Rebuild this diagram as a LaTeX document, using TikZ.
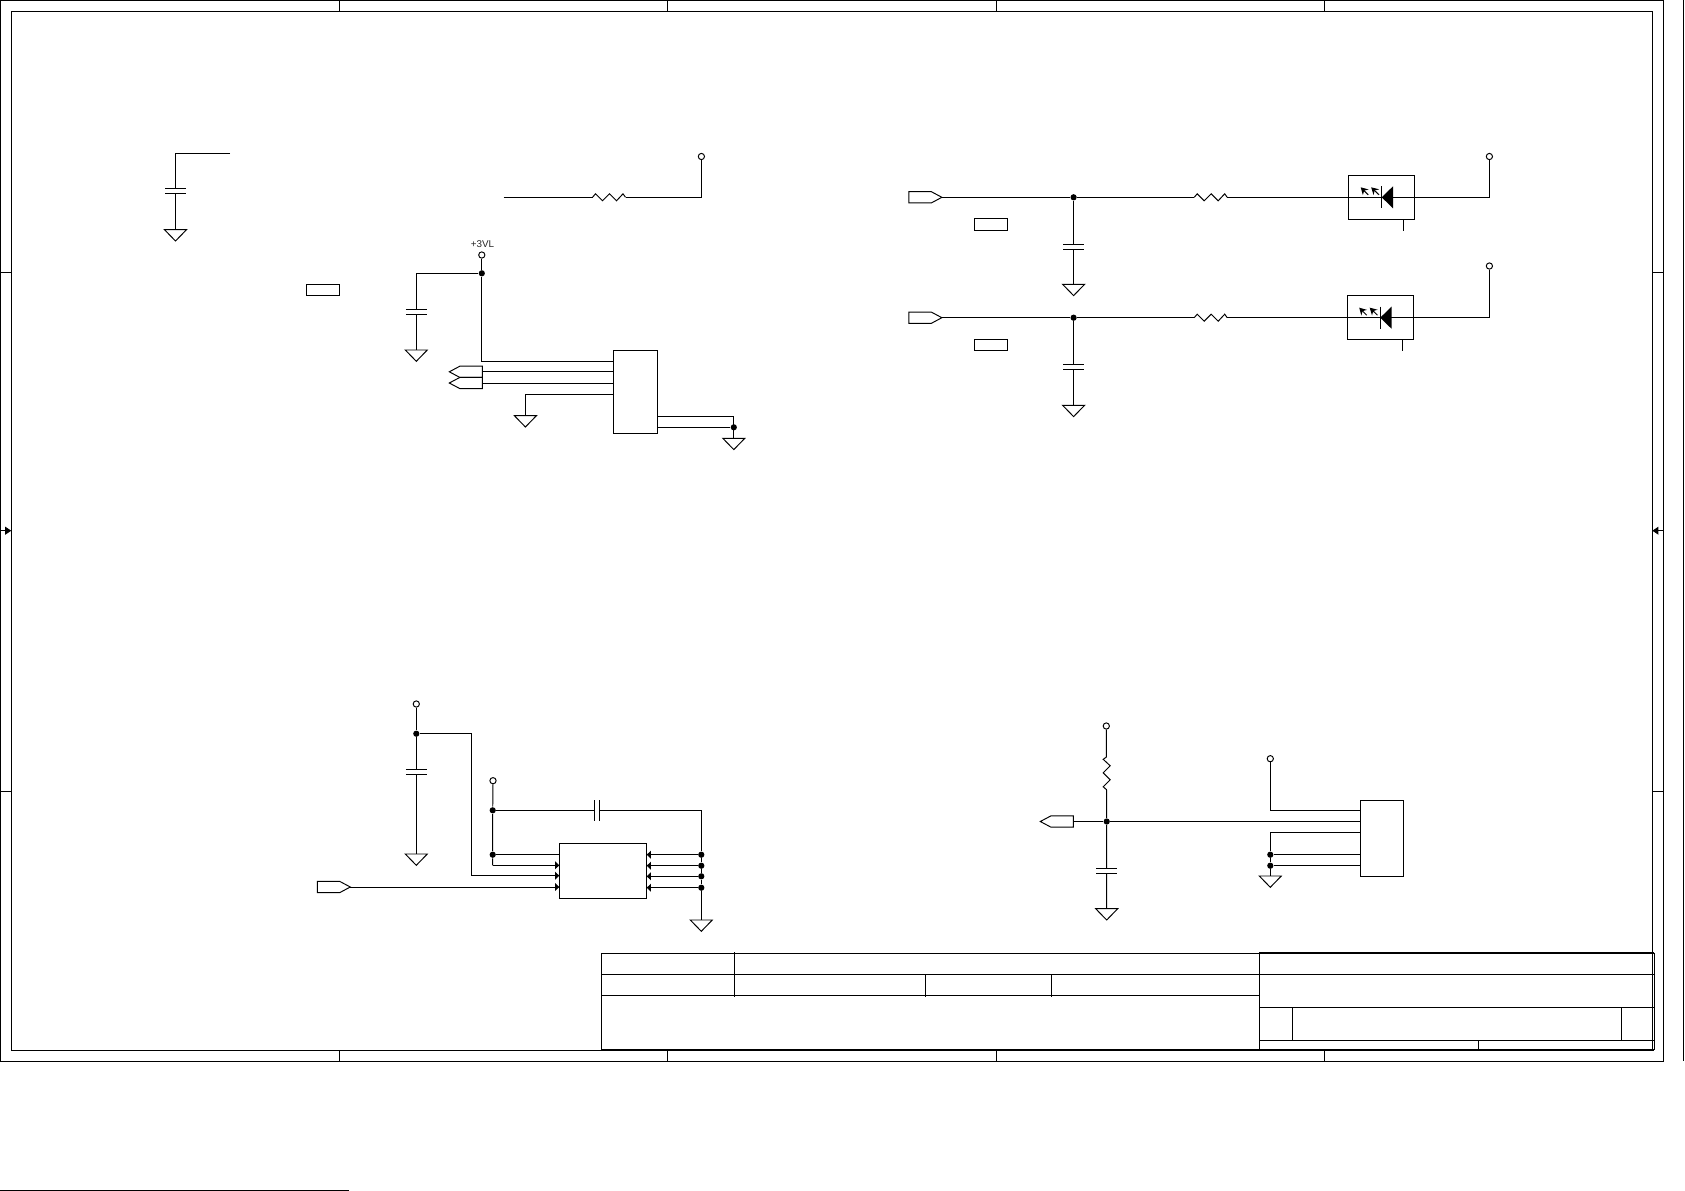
\documentclass[tikz,border=0pt]{standalone}
\usepackage{fontspec}
\setmainfont{Liberation Sans}
\usetikzlibrary{arrows.meta,shapes.symbols}
\tikzset{
  chip/.style 2 args={draw,inner sep=0,outer sep=0,minimum width=#1*0.02cm,minimum height=#2*0.02cm},
  dot/.style={circle,fill=black,inner sep=0,minimum size=0.125cm},
  pwr/.style={circle,draw,fill=white,inner sep=0,minimum size=0.125cm},
  port/.style={draw,signal,signal pointer angle=56,inner sep=0,outer sep=0,minimum width=0.66cm,minimum height=0.225cm},
  pin/.style={-{Triangle[length=2.4pt,width=4.4pt]}},
  heavy/.style={line width=1.2pt},
  gnd/.pic={\draw (-11,0) -- (11,0) -- (0,11.3) -- cycle;},
  cap/.pic={\fill[white] (-9,-2.6) rectangle (9,2.6);
    \draw (-10.5,-2.6) -- (10.5,-2.6) (-10.5,2.6) -- (10.5,2.6);},
  res/.pic={\fill[white] (-16.5,-4) rectangle (16.5,4);
    \draw (-16.5,0) -- (-13.5,-3.5) -- (-6.5,3.5) -- (0.5,-3.5) -- (7.5,3.5) -- (14,-3.5) -- (16.5,0);},
  led/.pic={\draw (0,-11) -- (0,11);
    \fill (0,0) -- (11.3,-11) -- (11.3,11) -- cycle;
    \draw[-{Stealth[length=4pt,width=4.5pt]}] (-13.5,-2.5) -- (-21,-10);
    \draw[-{Stealth[length=4pt,width=4.5pt]}] (-2.7,-2.5) -- (-10.5,-10);},
}
\begin{document}
\begin{tikzpicture}[x=0.02cm,y=-0.02cm,line width=0.55pt]
\useasboundingbox (0,0) rectangle (1685,1191);
% sheet frame
\draw (0.5,0.5) rectangle (1663.3,1061.6);
\draw (11.3,11) rectangle (1652.3,1050.3);
\draw (1683,0) -- (1683,1061);
\foreach \xx in {339.6,667.5,996.4,1324} {
  \draw (\xx,0.5) -- (\xx,11);
  \draw (\xx,1050.3) -- (\xx,1061.6);
}
\foreach \yy in {272,791} {
  \draw (0.5,\yy) -- (11.3,\yy);
  \draw (1652.3,\yy) -- (1663.3,\yy);
}
\draw[-{Triangle[length=3.5pt,width=4.5pt]}] (0.5,530.7) -- (11.3,530.7);
\draw[-{Triangle[length=3.5pt,width=4.5pt]}] (1663.3,530.7) -- (1652.3,530.7);
\draw (0,1190.4) -- (349,1190.4);
\foreach \xa/\xb in {392/394,409/413,437/443,446/447,454/455,461/466,477/484,489/505}
  \draw[black!60,line width=0.25pt] (\xa,1190.8) -- (\xb,1190.8);

% title block
\draw (601,953.3) rectangle (1259,1050.3);
\draw (601,974.3) -- (1259,974.3) (601,995.3) -- (1259,995.3);
\draw (734.5,952) -- (734.5,996.5);
\draw (925.9,974.3) -- (925.9,996.5) (1051,974.3) -- (1051,996.5);
\draw[heavy] (1259,952.7) -- (1654.2,952.7);
\draw[heavy] (601,1050.3) -- (1654.2,1050.3);
\draw (1654.2,952.7) -- (1654.2,1050.3);
\draw (1259,952.7) -- (1259,1050.3);
\draw (1259,974.3) -- (1654.2,974.3);
\draw (1259,1007.3) -- (1654.2,1007.3) (1259,1040) -- (1654.2,1040);
\draw (1292.5,1007.3) -- (1292.5,1040) (1621.4,1007.3) -- (1621.4,1040);
\draw (1478.3,1040) -- (1478.3,1050.3);

% top left cap
\coordinate (w1) at (230,153.3);
\coordinate (g1) at (175.5,229.7);
\draw (w1) -| (g1);
\pic at (175.5,191) {cap};
\pic at (g1) {gnd};

% top resistor
\node[pwr] (p1) at (701.4,156.5) {};
\coordinate (w2) at (503.7,197.3);
\draw (w2) -| (p1);
\pic at (609,197.3) {res};

\node[chip={33}{11}] (t1) at (323,289.8) {};

% +3VL interface chip
\node[chip={44}{83}] (u1) at (635.5,391.8) {};
\node[pwr] (p2) at (481.8,255) {};
\node[font=\fontsize{5.6pt}{6pt}\selectfont,text=black!85,inner sep=0] (l1) at (482.5,244) {+3VL};
\node[dot] (j1) at (481.8,273.3) {};
\coordinate (g2) at (416.3,350);
\coordinate (a1) at (613.6,361.3);
\node[port,signal to=west,anchor=west] (s1) at (449.3,371.8) {};
\node[port,signal to=west,anchor=west] (s2) at (449.3,383) {};
\coordinate (g3) at (525.4,415.7);
\coordinate (g4) at (733.8,438.3);
\node[dot] (j2) at (733.8,427.3) {};
\coordinate (a2) at (657.5,416);
\draw (p2) -- (j1);
\draw (j1) -| (g2);
\draw (j1) |- (a1);
\draw (s1.east) -- (s1.east -| u1.west);
\draw (s2.east) -- (s2.east -| u1.west);
\draw (g3) |- (u1.west |- 0,394.3);
\draw (a2) -| (g4);
\draw (j2) -- (j2 -| u1.east);
\pic at (416.3,311.8) {cap};
\pic at (g2) {gnd};
\pic at (g3) {gnd};
\pic at (g4) {gnd};

% LED one
\node[port,signal to=east,anchor=west] (s3) at (908.9,197.3) {};
\node[dot] (j3) at (1073.6,197.3) {};
\node[pwr] (p3) at (1489.4,156.5) {};
\coordinate (k1) at (1489.4,197.3);
\coordinate (g5) at (1073.6,284.3);
\node[chip={66}{44}] (d1) at (1381.3,197.3) {};
\coordinate (e1) at (1403.3,230.7);
\draw (s3.east) -- (j3) -- (k1) -- (p3);
\draw (j3) -- (g5);
\draw (e1) -- (e1 |- d1.south);
\pic at (1073.6,246.7) {cap};
\pic at (g5) {gnd};
\pic at (1210.7,197.3) {res};
\pic at (1381.7,197.3) {led};
\node[chip={33}{12}] (t2) at (991,224.3) {};

% LED two
\node[port,signal to=east,anchor=west] (s4) at (908.9,317.7) {};
\node[dot] (j4) at (1073.6,317.7) {};
\node[pwr] (p4) at (1489.4,266) {};
\coordinate (k2) at (1489.4,317.7);
\coordinate (g6) at (1073.6,405.3);
\node[chip={66}{44}] (d2) at (1380.3,317.3) {};
\coordinate (e2) at (1402.3,350.7);
\draw (s4.east) -- (j4) -- (k2) -- (p4);
\draw (j4) -- (g6);
\draw (e2) -- (e2 |- d2.south);
\pic at (1073.6,367.2) {cap};
\pic at (g6) {gnd};
\pic at (1210.7,317.7) {res};
\pic at (1380.2,317.7) {led};
\node[chip={33}{11.4}] (t3) at (991,345) {};

% bottom left chip
\node[chip={87.4}{55.4}] (u2) at (603,871) {};
\node[pwr] (p5) at (416.3,704) {};
\node[dot] (j5) at (416.3,733.7) {};
\coordinate (g7) at (416.3,854);
\coordinate (b1) at (471.3,875.7);
\node[pwr] (p6) at (493,780.7) {};
\node[dot] (j6) at (492.7,810.3) {};
\node[dot] (j7) at (492.7,854.7) {};
\coordinate (b2) at (492.7,865.3);
\node[dot] (q1) at (701.3,854.7) {};
\node[dot] (q2) at (701.3,865.7) {};
\node[dot] (q3) at (701.3,876.3) {};
\node[dot] (q4) at (701.3,887.7) {};
\coordinate (g8) at (701.3,920);
\node[port,signal to=east,anchor=west] (s5) at (317.3,887) {};
\draw (p5) -- (j5) -- (g7);
\draw (j5) -| (b1);
\draw[pin] (b1) -- (b1 -| u2.west);
\draw (p6) -- (j6) -- (j7) -- (b2);
\draw (j7) -- (j7 -| u2.west);
\draw[pin] (b2) -- (b2 -| u2.west);
\draw[pin] (s5.east) -- (s5.east -| u2.west);
\draw (j6) -| (q1);
\draw (q1) -- (q2) -- (q3) -- (q4) -- (g8);
\foreach \qq in {q1,q2,q3,q4}
  \draw[pin] (\qq) -- (\qq -| u2.east);
\pic at (416.3,772) {cap};
\pic at (g7) {gnd};
\pic[rotate=90] at (597,810.3) {cap};
\pic at (g8) {gnd};

% bottom right connector
\node[chip={43}{76.7}] (u3) at (1381.8,838.6) {};
\node[pwr] (p7) at (1106.3,726) {};
\node[dot] (j8) at (1106.7,821.5) {};
\coordinate (g9) at (1106.7,908.7);
\node[port,signal to=west,anchor=west] (s6) at (1040.3,821.5) {};
\node[pwr] (p8) at (1270.3,758.7) {};
\coordinate (b3) at (1270.3,832.7);
\node[dot] (j9) at (1270.3,854.7) {};
\node[dot] (j10) at (1270.3,865.7) {};
\coordinate (g10) at (1270.3,876);
\draw (p7) -- (j8) -- (g9);
\draw (s6.east) -- (j8);
\draw (j8) -- (j8 -| u3.west);
\draw (p8) |- (u3.west |- 0,810.3);
\draw (b3 -| u3.west) -- (b3) -- (j9) -- (j10) -- (g10);
\draw (j9) -- (j9 -| u3.west);
\draw (j10) -- (j10 -| u3.west);
\pic[rotate=90] at (1106.7,773.3) {res};
\pic at (1106.7,871) {cap};
\pic at (g9) {gnd};
\pic at (g10) {gnd};
\end{tikzpicture}
\end{document}
